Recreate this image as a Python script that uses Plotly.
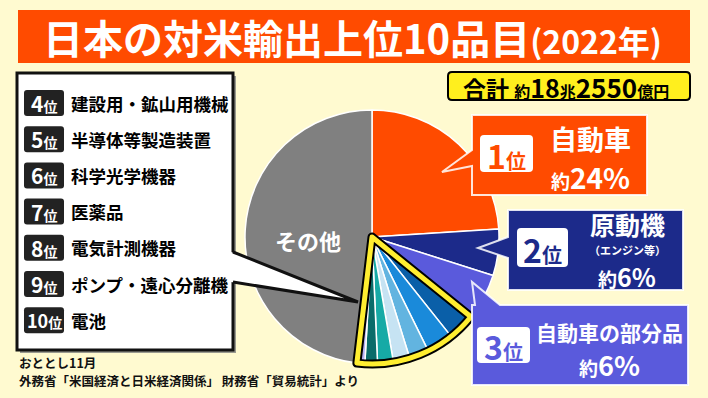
import plotly.graph_objects as go

# ---------------- data ----------------
ranks = ["1位", "2位", "3位", "4位", "5位", "6位", "7位", "8位", "9位", "10位"]
items = ["自動車", "原動機", "自動車の部分品", "建設用・鉱山用機械", "半導体等製造装置",
         "科学光学機器", "医薬品", "電気計測機器", "ポンプ・遠心分離機", "電池"]
shares = [24.0, 5.9, 5.9, 3.5, 3.4, 2.5, 2.1, 2.0, 1.6, 1.0]
other_label = "その他"
other_share = 48.1
share_texts = ["約24%", "約6%", "約6%"]
title_main = "日本の対米輸出上位10品目"
title_year = "(2022年)"
total_text = ("合計", "約", "18", "兆", "2550", "億円")
note_lines = ["おととし11月", "外務省「米国経済と日米経済関係」 財務省「貿易統計」より"]

# ---------------- style ----------------
W, H = 708, 398
BG = "#FFFAD0"
ORANGE = "#FF4B00"
NAVY = "#1C2A8A"
LAV = "#5A5ADC"
GRAY = "#808080"
slice_colors = [ORANGE, NAVY, LAV, "#0A5FA8", "#1A8ADA", "#62B4E0", "#C6E3F3",
                "#16AAA6", "#0A6C6A", "#B9B2F2"]
FONT = "Noto Sans CJK JP"

cx, cy, R = 372, 237, 127

fig = go.Figure()

labels_all = items + [other_label]
values_all = shares + [other_share]
colors_all = slice_colors + [GRAY]

dom = dict(x=[(cx - R) / W, (cx + R) / W], y=[(H - cy - R) / H, (H - cy + R) / H])

fig.add_trace(go.Pie(
    labels=labels_all, values=values_all, sort=False, direction="clockwise", rotation=0,
    marker=dict(colors=colors_all, line=dict(color="white", width=1.5)),
    textinfo="none", hoverinfo="label+percent", domain=dom, showlegend=False,
))

# highlight for ranks 4-10
grp_vals = [sum(shares[:3]), sum(shares[3:]), other_share]
grp_labels = ["上位3品目", "4位〜10位", other_label]
for lc, lw in (("black", 9), ("#FFEE30", 5)):
    fig.add_trace(go.Pie(
        labels=grp_labels, values=grp_vals, sort=False, direction="clockwise", rotation=0,
        marker=dict(colors=["rgba(0,0,0,0)"] * 3,
                    line=dict(color=["rgba(0,0,0,0)", lc, "rgba(0,0,0,0)"], width=[0, lw, 0])),
        textinfo="none", hoverinfo="skip", domain=dom, showlegend=False,
    ))

shapes = []
ann = []


def rrect(x0, y0, x1, y1, r):
    return (f"M{x0+r},{y0} L{x1-r},{y0} Q{x1},{y0} {x1},{y0+r} L{x1},{y1-r} "
            f"Q{x1},{y1} {x1-r},{y1} L{x0+r},{y1} Q{x0},{y1} {x0},{y1-r} "
            f"L{x0},{y0+r} Q{x0},{y0} {x0+r},{y0} Z")


def text(x, y, s, size, color="black", xanchor="center", bold=True):
    ann.append(dict(x=x, y=y, xref="x", yref="y", text=s, showarrow=False,
                    xanchor=xanchor, yanchor="middle",
                    font=dict(family=FONT, size=size, color=color,
                              weight="bold" if bold else "normal")))


# title bar
shapes.append(dict(type="rect", x0=18, y0=10, x1=690, y1=63, fillcolor=ORANGE,
                   line=dict(width=0), layer="below"))
text(352, 37, f"{title_main}<span style='font-size:32px'>{title_year}</span>", 40, "white")

# total box
shapes.append(dict(type="path", path=rrect(448, 72, 690, 100, 4), fillcolor="#FFEF1E",
                   line=dict(color="black", width=2), layer="below"))
text(566, 86, f"{total_text[0]} <span style='font-size:16px'>{total_text[1]}</span>"
     f"<span style='font-size:25px'>{total_text[2]}</span>"
     f"<span style='font-size:16px'>{total_text[3]}</span>"
     f"<span style='font-size:26px'>{total_text[4]}</span>"
     f"<span style='font-size:16px'>{total_text[5]}</span>", 23)

# legend box (ranks 4-10)
bx0, by0, bx1, by1 = 17, 73, 233, 350
shapes.append(dict(type="rect", x0=bx0 + 3, y0=by0 + 3, x1=bx1 + 3, y1=by1 + 3,
                   fillcolor="#9A9A90", line=dict(width=0), layer="above"))
shapes.append(dict(type="rect", x0=bx0, y0=by0, x1=bx1, y1=by1, fillcolor="white",
                   line=dict(color="#111", width=3), layer="above"))
# pointer to the highlighted wedge
pu, pl, tip = (bx1, 252), (bx1, 282), (358, 302)
shapes.append(dict(type="path",
                   path=f"M{bx1-2},{pu[1]} L{tip[0]},{tip[1]} L{bx1-2},{pl[1]} Z",
                   fillcolor="white", line=dict(width=0), layer="above"))
shapes.append(dict(type="path", path=f"M{pu[0]},{pu[1]} L{tip[0]},{tip[1]} L{pl[0]},{pl[1]}",
                   line=dict(color="#111", width=3), layer="above"))

for i in range(3, 10):
    yy = 103 + (i - 3) * 36.2
    shapes.append(dict(type="path", path=rrect(24, yy - 13, 64, yy + 13, 3),
                       fillcolor="#222", line=dict(width=0), layer="above"))
    num = ranks[i][:-1]
    text(44, yy, f"{num}<span style='font-size:14px'>位</span>", 21 if len(num) == 1 else 18,
         "white")
    text(69, yy, items[i], 17.5, "black", xanchor="left")

# callouts for 1-3
callouts = [
    dict(box=(472, 115, 647, 195), ptr=[(472, 150), (442, 172), (472, 166)], side="left",
         color=ORANGE),
    dict(box=(508, 210, 683, 290), ptr=[(508, 237), (478, 248), (508, 258)], side="left",
         color=NAVY),
    dict(box=(472, 305, 688, 385), ptr=[(500, 305), (472, 282), (475, 305)], side="top",
         color=LAV),
]
for c in callouts:
    x0, y0, x1, y1 = c["box"]
    a, t, b = c["ptr"]
    if c["side"] == "left":
        p = (f"M{x0},{y0} L{x1},{y0} L{x1},{y1} L{x0},{y1} L{x0},{b[1]} "
             f"L{t[0]},{t[1]} L{x0},{a[1]} Z")
    else:
        p = (f"M{x0},{y0} L{b[0]},{y0} L{t[0]},{t[1]} L{a[0]},{y0} L{x1},{y0} "
             f"L{x1},{y1} L{x0},{y1} Z")
    shapes.append(dict(type="path", path=p, fillcolor=c["color"],
                       line=dict(color="rgba(255,255,255,0.85)", width=2), layer="above"))

# badges
badge_boxes = [(480, 135, 533, 172), (517, 228, 568, 267), (477, 327, 530, 363)]
for i, (x0, y0, x1, y1) in enumerate(badge_boxes):
    shapes.append(dict(type="path", path=rrect(x0, y0, x1, y1, 4), fillcolor="white",
                       line=dict(width=0), layer="above"))
    text((x0 + x1) / 2, (y0 + y1) / 2 + 1,
         f"{ranks[i][:-1]}<span style='font-size:20px'>位</span>", 32, colors_all[i])


def pct(s):
    return f"<span style='font-size:19px'>{s[0]}</span>{s[1:]}"


text(590, 138, items[0], 27, "white")
text(590, 177, pct(share_texts[0]), 28, "white")
text(627, 224, items[1], 25, "white")
text(627, 250, "（エンジン等）", 11, "white")
text(627, 276, pct(share_texts[1]), 25, "white")
text(609, 332, items[2], 21, "white")
text(609, 364, pct(share_texts[2]), 27, "white")

# その他 label
text(308, 240, other_label, 22, "white")

# notes
text(17, 362, note_lines[0], 12.5, "#111", xanchor="left")
text(17, 380, note_lines[1], 12.5, "#111", xanchor="left")

fig.update_layout(
    width=W, height=H, margin=dict(l=0, r=0, t=0, b=0),
    paper_bgcolor=BG, plot_bgcolor=BG,
    xaxis=dict(range=[0, W], visible=False, fixedrange=True),
    yaxis=dict(range=[H, 0], visible=False, fixedrange=True),
    shapes=shapes, annotations=ann, showlegend=False,
)
fig.write_html("out.html", config={"displayModeBar": False},
               post_script="document.body.style.margin='0';document.body.style.overflow='hidden';")
